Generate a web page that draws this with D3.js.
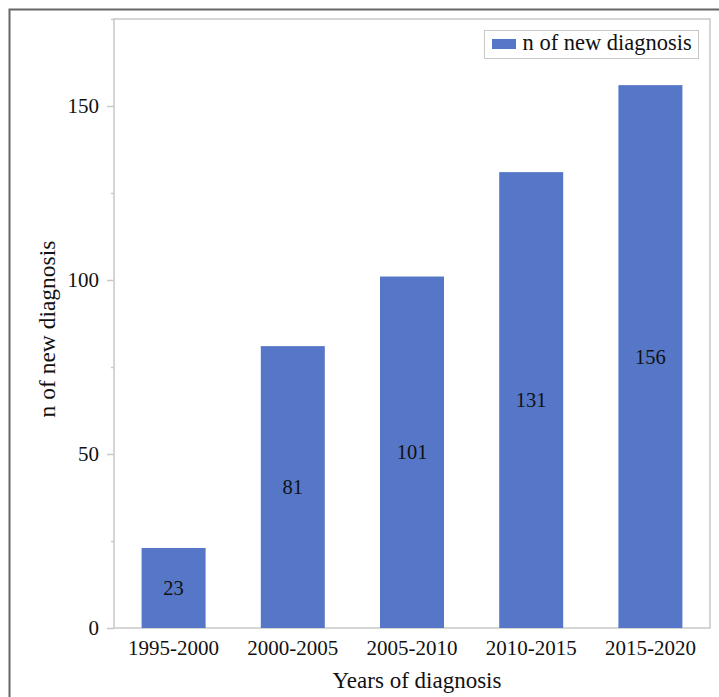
<!DOCTYPE html>
<html>
<head>
<meta charset="utf-8">
<script src="https://cdn.jsdelivr.net/npm/d3@7"></script>
<style>
  body { margin: 0; background: #fff; }
  svg { display: block; font-family: "Liberation Serif", "Times New Roman", serif; }
</style>
</head>
<body>
<div id="chart"></div>
<script>
const w = 719
const h = 697

const categories = ['1995-2000', '2000-2005', '2005-2010', '2010-2015', '2015-2020']
const counts = [23, 81, 101, 131, 156]
const majorTicks = [0, 50, 100, 150]
const minorTicks = [25, 75, 125, 175]
const seriesName = 'n of new diagnosis'

const serif = '"Liberation Serif", "Times New Roman", serif'
const m = { left: 114, right: 710, top: 19, bottom: 628 }
const barColor = '#5677c7'
const axisColor = '#c8c8c8'
const textColor = '#111'

const svg = d3.select('#chart')
    .append('svg')
    .attr('width', w)
    .attr('height', h)

// outer frame (only top and left edges fall inside the picture)
svg.append('path')
    .attr('d', `M9.5,${h + 5} V9.5 H${w + 5}`)
    .attr('fill', 'none')
    .attr('stroke', '#666')
    .attr('stroke-width', 2)

const xScale = d3.scaleBand()
    .domain(categories)
    .range([m.left, m.right])
    .paddingInner(0.463)
    .paddingOuter(0.2315)

const yScale = d3.scaleLinear()
    .domain([0, 175])
    .range([m.bottom, m.top])

// plot frame
svg.append('rect')
    .attr('x', m.left)
    .attr('y', m.top)
    .attr('width', m.right - m.left)
    .attr('height', m.bottom - m.top)
    .attr('fill', 'none')
    .attr('stroke', axisColor)
    .attr('stroke-width', 1.5)

svg.selectAll('rect.bar')
    .data(counts)
    .enter()
    .append('rect')
    .attr('class', 'bar')
    .attr('x', (d, i) => xScale(categories[i]))
    .attr('y', d => yScale(d))
    .attr('width', xScale.bandwidth())
    .attr('height', d => yScale(0) - yScale(d))
    .style('fill', barColor)

svg.selectAll('text.val')
    .data(counts)
    .enter()
    .append('text')
    .attr('class', 'val')
    .attr('x', (d, i) => xScale(categories[i]) + xScale.bandwidth() / 2)
    .attr('y', d => (yScale(d) + yScale(0)) / 2)
    .attr('dy', '0.35em')
    .attr('text-anchor', 'middle')
    .attr('font-size', 20.5)
    .attr('fill', textColor)
    .text(d => d)

// y axis
const yAxis = d3.axisLeft(yScale).tickValues(majorTicks).tickSize(7).tickPadding(8)
const gy = svg.append('g')
    .attr('transform', `translate(${m.left},0)`)
    .call(yAxis)
    .attr('font-family', serif)
    .attr('font-size', 21)
gy.select('.domain').remove()
gy.selectAll('.tick line').attr('stroke', axisColor).attr('stroke-width', 1.5)
gy.selectAll('.tick text').attr('fill', textColor)

const yMinor = d3.axisLeft(yScale).tickValues(minorTicks).tickSize(3).tickFormat('')
const gym = svg.append('g')
    .attr('transform', `translate(${m.left},0)`)
    .call(yMinor)
gym.select('.domain').remove()
gym.selectAll('.tick line').attr('stroke', axisColor).attr('stroke-width', 1.5)

// x axis
const xAxis = d3.axisBottom(xScale).tickSize(0).tickPadding(12)
const gx = svg.append('g')
    .attr('transform', `translate(0,${m.bottom})`)
    .call(xAxis)
    .attr('font-family', serif)
    .attr('font-size', 21)
gx.select('.domain').remove()
gx.selectAll('.tick text').attr('fill', textColor)

// axis titles
svg.append('text')
    .attr('x', 417)
    .attr('y', 688)
    .attr('text-anchor', 'middle')
    .attr('font-size', 23)
    .attr('fill', textColor)
    .text('Years of diagnosis')

svg.append('text')
    .attr('transform', 'translate(55,329) rotate(-90)')
    .attr('text-anchor', 'middle')
    .attr('font-size', 23.5)
    .attr('fill', textColor)
    .text('n of new diagnosis')

// legend
const lg = svg.append('g').attr('transform', 'translate(484.5,30.5)')
lg.append('rect')
    .attr('width', 214)
    .attr('height', 28)
    .attr('fill', '#fff')
    .attr('stroke', axisColor)
lg.append('rect')
    .attr('x', 7.5)
    .attr('y', 8.5)
    .attr('width', 24)
    .attr('height', 10)
    .attr('fill', barColor)
lg.append('text')
    .attr('x', 38)
    .attr('y', 19.5)
    .attr('font-size', 22.5)
    .attr('fill', textColor)
    .text(seriesName)
</script>
</body>
</html>
